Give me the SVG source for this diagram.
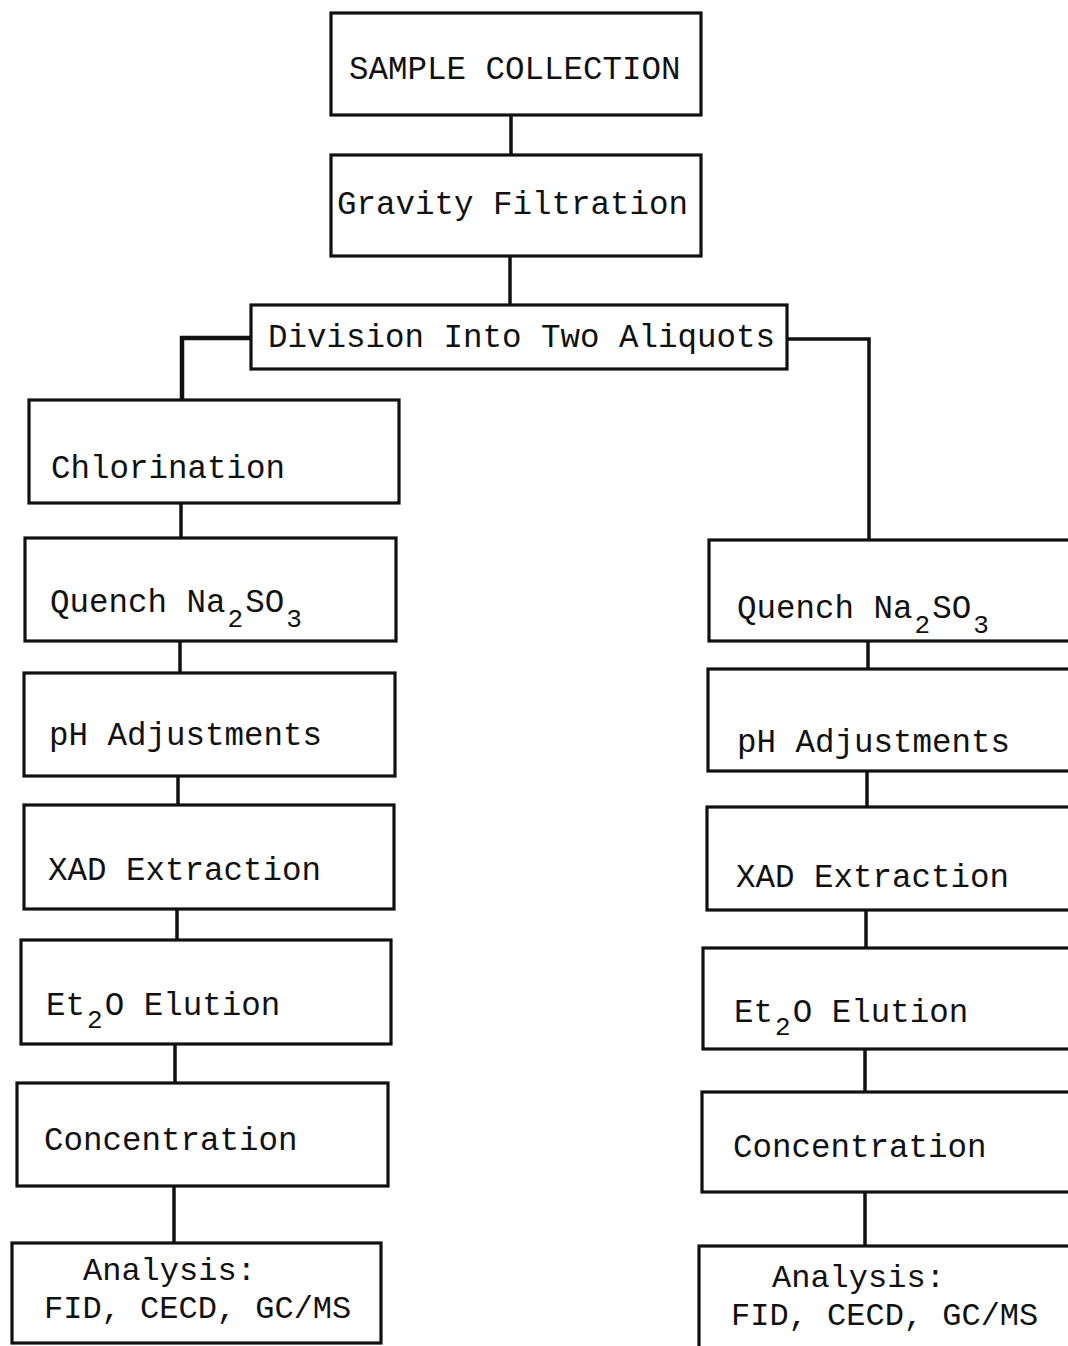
<svg xmlns="http://www.w3.org/2000/svg" width="1068" height="1346" viewBox="0 0 1068 1346">
<style>
.box{fill:#fff;stroke:#111;stroke-width:3.2}
.lbl{font-family:"Liberation Mono","Courier New",monospace;font-size:32.5px;fill:#111}
.sub{font-size:26px}
.con{fill:none;stroke:#111;stroke-width:3.5}
</style>
<rect width="1068" height="1346" fill="#fff"/>
<g id="connectors">
<line class="con" x1="511" y1="115" x2="511" y2="155"/>
<line class="con" x1="510" y1="256" x2="510" y2="305"/>
<polyline class="con" points="251,338 182,338 182,400" style="stroke-width:4.5"/>
<polyline class="con" points="787,339 869,339 869,540"/>
<line class="con" x1="181" y1="503" x2="181" y2="538"/>
<line class="con" x1="180" y1="641" x2="180" y2="673"/>
<line class="con" x1="178" y1="776" x2="178" y2="805"/>
<line class="con" x1="177" y1="909" x2="177" y2="940"/>
<line class="con" x1="175" y1="1044" x2="175" y2="1083"/>
<line class="con" x1="174" y1="1186" x2="174" y2="1243"/>
<line class="con" x1="868" y1="641" x2="868" y2="669"/>
<line class="con" x1="867" y1="771" x2="867" y2="807"/>
<line class="con" x1="866" y1="910" x2="866" y2="948"/>
<line class="con" x1="865" y1="1049" x2="865" y2="1092"/>
<line class="con" x1="865" y1="1192" x2="865" y2="1246"/>
</g>
<g id="sample-collection">
<rect class="box" x="331" y="13" width="370" height="102"/>
<text class="lbl" x="349" y="79">SAMPLE COLLECTION</text>
</g>
<g id="gravity-filtration">
<rect class="box" x="331" y="155" width="370" height="101"/>
<text class="lbl" x="337" y="214">Gravity Filtration</text>
</g>
<g id="division">
<rect class="box" x="251" y="305" width="536" height="64"/>
<text class="lbl" x="268" y="347">Division Into Two Aliquots</text>
</g>
<g id="l-chlorination">
<rect class="box" x="29" y="400" width="370" height="103"/>
<text class="lbl" x="51" y="478">Chlorination</text>
</g>
<g id="l-quench">
<rect class="box" x="25" y="538" width="371" height="103"/>
<text class="lbl" x="50" y="612">Quench Na<tspan class="sub" dx="2" dy="15">2</tspan><tspan dx="2" dy="-15">SO</tspan><tspan class="sub" dx="2" dy="15">3</tspan></text>
</g>
<g id="l-ph">
<rect class="box" x="24" y="673" width="371" height="103"/>
<text class="lbl" x="49" y="745">pH Adjustments</text>
</g>
<g id="l-xad">
<rect class="box" x="24" y="805" width="370" height="104"/>
<text class="lbl" x="48" y="880">XAD Extraction</text>
</g>
<g id="l-et2o">
<rect class="box" x="21" y="940" width="370" height="104"/>
<text class="lbl" x="46" y="1015">Et<tspan class="sub" dx="2" dy="13">2</tspan><tspan dx="2" dy="-13">O Elution</tspan></text>
</g>
<g id="l-concentration">
<rect class="box" x="17" y="1083" width="371" height="103"/>
<text class="lbl" x="44" y="1150">Concentration</text>
</g>
<g id="l-analysis">
<rect class="box" x="12" y="1243" width="369" height="100"/>
<text class="lbl" x="83" y="1280" style="font-size:32px">Analysis:</text>
<text class="lbl" x="44" y="1318" style="font-size:32px">FID, CECD, GC/MS</text>
</g>
<g id="r-quench">
<rect class="box" x="709" y="540" width="380" height="101"/>
<text class="lbl" x="737" y="618">Quench Na<tspan class="sub" dx="2" dy="15">2</tspan><tspan dx="2" dy="-15">SO</tspan><tspan class="sub" dx="2" dy="15">3</tspan></text>
</g>
<g id="r-ph">
<rect class="box" x="708" y="669" width="380" height="102"/>
<text class="lbl" x="737" y="752">pH Adjustments</text>
</g>
<g id="r-xad">
<rect class="box" x="707" y="807" width="380" height="103"/>
<text class="lbl" x="736" y="887">XAD Extraction</text>
</g>
<g id="r-et2o">
<rect class="box" x="703" y="948" width="385" height="101"/>
<text class="lbl" x="734" y="1022">Et<tspan class="sub" dx="2" dy="13">2</tspan><tspan dx="2" dy="-13">O Elution</tspan></text>
</g>
<g id="r-concentration">
<rect class="box" x="702" y="1092" width="385" height="100"/>
<text class="lbl" x="733" y="1157">Concentration</text>
</g>
<g id="r-analysis">
<rect class="box" x="699" y="1246" width="390" height="120"/>
<text class="lbl" x="772" y="1287" style="font-size:32px">Analysis:</text>
<text class="lbl" x="731" y="1325" style="font-size:32px">FID, CECD, GC/MS</text>
</g>
</svg>
